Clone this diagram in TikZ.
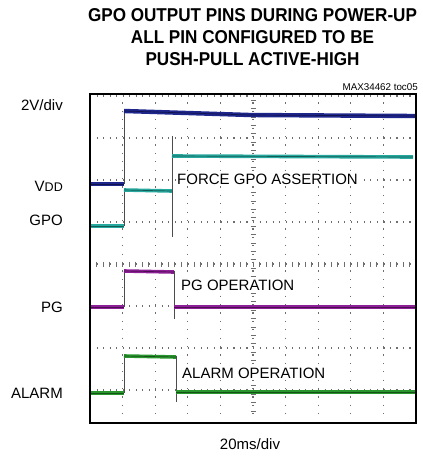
\documentclass[tikz,border=0pt]{standalone}
\usepackage{fontspec}
\setmainfont{Liberation Sans}
\newfontfamily\titlefont[FakeStretch=0.92]{Liberation Sans}

\definecolor{vddcol}{RGB}{30,38,140}
\definecolor{gpocol}{RGB}{38,168,158}
\definecolor{pgcol}{RGB}{140,30,150}
\definecolor{alarmcol}{RGB}{40,150,45}
\definecolor{gridcol}{RGB}{110,110,110}

\begin{document}
\begin{tikzpicture}[x=1pt,y=-1pt,
            gridh/.style={gridcol, line width=1.1pt, dash pattern=on 1.1pt off 5.42pt},
            gridv/.style={gridcol, line width=1.1pt, dash pattern=on 1.1pt off 7.3pt},
            axtick/.style={gridcol, line width=0.8pt},
            frame/.style={draw=black, line width=2.6pt},
            trace/.style={line width=3.6pt,
                postaction={draw=black, line width=0.7pt, opacity=0.45}},
            edgeline/.style={gray!60!black, line width=0.8pt},
            title/.style={font=\titlefont\fontsize{18.6}{22}\selectfont\bfseries, inner sep=0pt, anchor=base},
            lbl/.style={font=\fontsize{15}{18}\selectfont, inner sep=0pt, anchor=base east},
            note/.style={font=\fontsize{15}{18}\selectfont, inner sep=1pt, fill=white, anchor=base west},
            ]
            \useasboundingbox (0,0) rectangle (423,456);

            % title
            \node[title] (title1) at (252.5,21.5) {GPO OUTPUT PINS DURING POWER-UP};
            \node[title] (title2) at (252.5,43.5) {ALL PIN CONFIGURED TO BE};
            \node[title] (title3) at (252.5,65.5) {PUSH-PULL ACTIVE-HIGH};
            \node[font=\fontsize{9.8}{12}\selectfont, inner sep=0pt, anchor=base east] (toc) at (418,90.5) {MAX34462 toc05};

            % grid
            \foreach \i in {1,...,9}
                \draw[gridv] ({90+32.6*\i},94) -- ({90+32.6*\i},423);
            \foreach \j in {0,...,7}
                \draw[gridh] (90,{96+42*\j}) -- (416,{96+42*\j});
            \foreach \k in {1,...,49}
                \draw[axtick] ({90+6.52*\k},261.5) -- ++(0,5);
            \foreach \k in {1,...,38}
                \draw[axtick] (250.5,{96+8.4*\k-4.2}) -- ++(5,0);

            % edges
            \draw[edgeline] (124,184) -- (124,111);
            \draw[edgeline] (124,226) -- (124,190);
            \draw[edgeline] (172,136) -- (172,237);
            \draw[edgeline] (124,307) -- (124,271);
            \draw[edgeline] (174,271) -- (174,319);
            \draw[edgeline] (124,393) -- (124,356);
            \draw[edgeline] (176,356) -- (176,402);

            % traces
            \draw[trace, vddcol, line width=4.4pt] (90,184) -- (124,184);
            \draw[trace, vddcol, line width=4.4pt] (124,111) -- (140,111.5) -- (250,115) -- (416,116);
            \draw[trace, gpocol] (90,226) -- (124,226);
            \draw[trace, gpocol] (124,190) -- (172,191);
            \draw[trace, gpocol] (172,156) -- (413,157);
            \draw[trace, pgcol] (90,307) -- (124,307);
            \draw[trace, pgcol] (124,271) -- (174,272);
            \draw[trace, pgcol] (174,307) -- (416,307);
            \draw[trace, alarmcol] (90,393) -- (124,393);
            \draw[trace, alarmcol] (124,356) -- (176,357);
            \draw[trace, alarmcol] (176,392) -- (416,392);

            \draw[frame] (90,94) rectangle (416,423);

            % labels
            \node[note] (force) at (176,184.5) {FORCE GPO ASSERTION};
            \node[note] (pgop) at (180,290.5) {PG OPERATION};
            \node[note] (alarmop) at (181,378.5) {ALARM OPERATION};

            \node[lbl] (vdiv) at (63,110.4) {2V/div};
            \node[lbl] (vdd) at (63,191) {V{\fontsize{12.5}{14}\selectfont DD}};
            \node[lbl] (gpo) at (63,225) {GPO};
            \node[lbl] (pg) at (63,312.5) {PG};
            \node[lbl] (alarm) at (63,398.5) {ALARM};
            \node[font=\fontsize{15}{18}\selectfont, inner sep=0pt, anchor=base] (tdiv) at (250,449) {20ms/div};
        \end{tikzpicture}
\end{document}
